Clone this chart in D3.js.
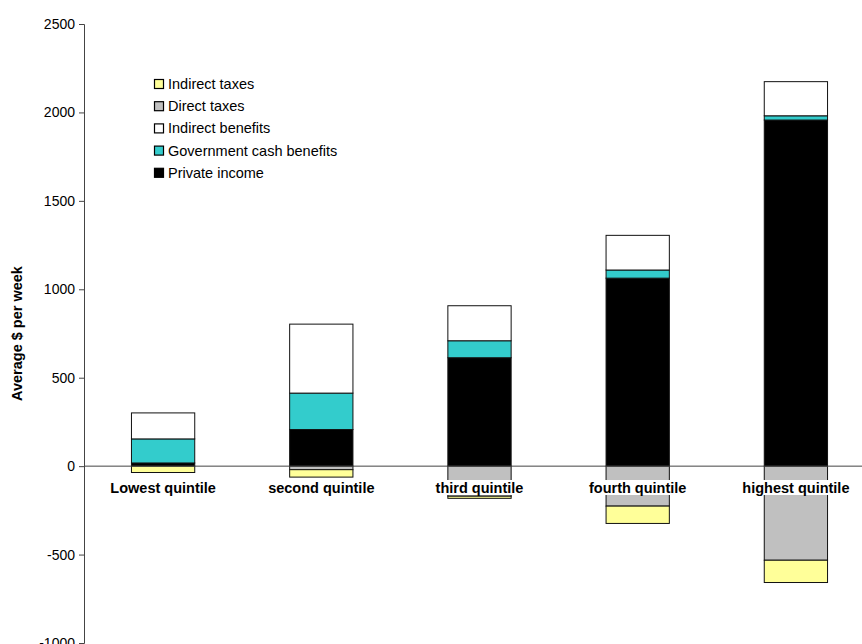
<!DOCTYPE html>
<html>
<head>
<meta charset="utf-8">
<script src="https://cdn.jsdelivr.net/npm/d3@7"></script>
<style>
  html, body { margin: 0; padding: 0; background: #fff; }
  svg { display: block; font-family: "Liberation Sans", Arial, sans-serif; }
</style>
</head>
<body>
<svg id="chart" width="862" height="644"></svg>
<script>
// Average weekly income by quintile, broken into components
const categories = ["Lowest quintile", "second quintile", "third quintile", "fourth quintile", "highest quintile"];
const privateIncome    = [18, 207, 613, 1063, 1957];
const cashBenefits     = [136, 206, 96, 46, 24];
const indirectBenefits = [147, 390, 198, 196, 193];
const directTaxes      = [0, -20, -170, -226, -532];
const indirectTaxes    = [-36, -42, -12, -98, -126];
const yTicks = [-1000, -500, 0, 500, 1000, 1500, 2000, 2500];

const seriesNames  = ["Private income", "Government cash benefits", "Indirect benefits", "Direct taxes", "Indirect taxes"];
const seriesValues = [privateIncome, cashBenefits, indirectBenefits, directTaxes, indirectTaxes];
const seriesColors = ["#000000", "#33CCCC", "#FFFFFF", "#C0C0C0", "#FFFF99"];

const svg = d3.select("#chart");
const plotLeft = 84, plotTop = 24, plotBottom = 643, plotRight = 875;

const y = d3.scaleLinear().domain([-1000, 2500]).range([plotBottom, plotTop]);
const x = d3.scaleBand().domain(categories).range([plotLeft, plotRight]).paddingInner(0.6).paddingOuter(0.3);

// rows for d3.stack with diverging offset
const rows = categories.map((c, i) => {
  const r = { cat: c };
  seriesNames.forEach((s, k) => r[s] = seriesValues[k][i]);
  return r;
});
const stacked = d3.stack().keys(seriesNames).offset(d3.stackOffsetDiverging)(rows);

// bars
const gBars = svg.append("g");
stacked.forEach((layer, k) => {
  gBars.selectAll(null)
    .data(layer.filter(d => d[0] !== d[1]))
    .join("rect")
    .attr("x", d => x(d.data.cat))
    .attr("width", x.bandwidth())
    .attr("y", d => y(Math.max(d[0], d[1])))
    .attr("height", d => Math.abs(y(d[0]) - y(d[1])))
    .attr("fill", seriesColors[k])
    .attr("stroke", "#111")
    .attr("stroke-width", 1);
});

// zero line
svg.append("line")
  .attr("x1", plotLeft).attr("x2", 862)
  .attr("y1", y(0)).attr("y2", y(0))
  .attr("stroke", "#444").attr("stroke-width", 1);

// y axis
const yAxis = d3.axisLeft(y).tickValues(yTicks).tickSize(5).tickPadding(4).tickFormat(d => String(d));
const gy = svg.append("g").attr("transform", `translate(${plotLeft},0)`).call(yAxis);
gy.select(".domain").attr("stroke", "#444");
gy.selectAll(".tick line").attr("stroke", "#444");
gy.selectAll(".tick text").attr("font-size", 14).attr("fill", "#000")
  .attr("font-family", "'Liberation Sans', Arial, sans-serif");

// y axis title
svg.append("text")
  .attr("transform", `translate(22,${(plotTop + plotBottom) / 2}) rotate(-90)`)
  .attr("text-anchor", "middle")
  .attr("font-size", 14.5)
  .attr("font-weight", "bold")
  .text("Average $ per week");

// category labels with white backing
const gLab = svg.append("g");
categories.forEach(c => {
  const t = gLab.append("text")
    .attr("x", x(c) + x.bandwidth() / 2)
    .attr("y", 493)
    .attr("text-anchor", "middle")
    .attr("font-size", 14.5)
    .attr("font-weight", "bold")
    .text(c);
  const b = t.node().getBBox();
  gLab.insert("rect", () => t.node())
    .attr("x", b.x - 2).attr("y", b.y)
    .attr("width", b.width + 4).attr("height", b.height - 1)
    .attr("fill", "#fff");
});

// legend
const legendOrder = [4, 3, 2, 1, 0];
const lg = svg.append("g").attr("transform", "translate(154,84)");
legendOrder.forEach((k, i) => {
  const row = lg.append("g").attr("transform", `translate(0,${i * 22.2})`);
  row.append("rect")
    .attr("x", 0.5).attr("y", -4.5)
    .attr("width", 9).attr("height", 9)
    .attr("fill", seriesColors[k]).attr("stroke", "#000").attr("stroke-width", 1.2);
  row.append("text")
    .attr("x", 14).attr("y", 5)
    .attr("font-size", 14.5)
    .text(seriesNames[k]);
});
</script>
</body>
</html>
